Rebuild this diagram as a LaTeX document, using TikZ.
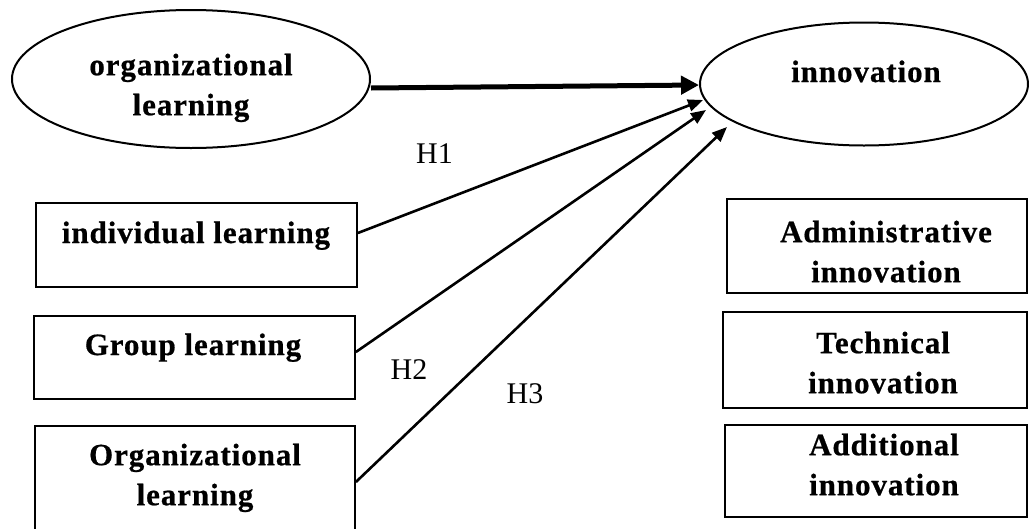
\documentclass[tikz,border=0pt]{standalone}
\usepackage{fontspec}
\setmainfont{Liberation Serif}
\newfontfamily\boxfont{Liberation Serif}[LetterSpace=3, BoldFeatures={FakeBold=0.6}]
\usetikzlibrary{shapes.geometric,arrows.meta}
\begin{document}
\begin{tikzpicture}[x=1pt,y=-1pt,
  box/.style={draw, line width=1.8pt, rectangle, inner sep=0pt},
  ell/.style={draw, ellipse, line width=2pt, inner sep=0pt},
  txt/.style={font=\boxfont\bfseries\fontsize{31}{40}\selectfont, align=center, inner sep=0pt},
  hyp/.style={font=\fontsize{30}{36}\selectfont, inner sep=0pt, anchor=base},
  arr/.style={line width=2.6pt, -{Triangle[length=15pt,width=12pt]}},
  bigarr/.style={line width=5pt, -{Triangle[length=18pt,width=18pt]}}]
\useasboundingbox (0,0) rectangle (1029,528);
\clip (0,0) rectangle (1029,528);

% ellipses
\node[ell, minimum width=358pt, minimum height=138pt] (orgL) at (191,79) {};
\node[ell, minimum width=328pt, minimum height=123pt] (innov) at (864,84) {};
\node[txt, anchor=north] (orgLtxt) at (191,53.5) {organizational\\learning};
\node[txt, anchor=base] (innovtxt) at (866,82) {innovation};

% left boxes
\node[box, minimum width=321pt, minimum height=84pt] (ind) at (196.5,245) {};
\node[box, minimum width=321pt, minimum height=83pt] (grp) at (194.5,357.5) {};
\node[box, minimum width=320pt, minimum height=134pt] (orgb) at (195,493) {};
\node[txt, anchor=base] (indtxt) at (196,243) {individual learning};
\node[txt, anchor=base] (grptxt) at (193,355) {Group learning};
\node[txt, anchor=north] (orgbtxt) at (195,443.5) {Organizational\\learning};

% right boxes
\node[box, minimum width=300pt, minimum height=94pt] (adm) at (877,246) {};
\node[box, minimum width=304pt, minimum height=96pt] (tech) at (875,360) {};
\node[box, minimum width=302pt, minimum height=92pt] (addi) at (876,471) {};
\node[txt, anchor=north] (admtxt) at (886,220.5) {Administrative\\innovation};
\node[txt, anchor=north] (techtxt) at (883,331.5) {Technical\\innovation};
\node[txt, anchor=north] (additxt) at (884,433.5) {Additional\\innovation};

% connectors
\coordinate (t1) at (703,100);
\coordinate (t2) at (706,110);
\coordinate (t3) at (727,127);
\draw[bigarr] ([yshift=-9pt]orgL.east) -- ([yshift=-1pt]innov.west);
\draw[arr] ([yshift=12pt]ind.east) -- (t1);
\draw[arr] ([yshift=5.5pt]grp.east) -- (t2);
\draw[arr] ([yshift=11pt]orgb.east) -- (t3);

% labels
\node[hyp] (h1) at (434.5,163) {H1};
\node[hyp] (h2) at (409,379) {H2};
\node[hyp] (h3) at (525,403) {H3};
\end{tikzpicture}
\end{document}
